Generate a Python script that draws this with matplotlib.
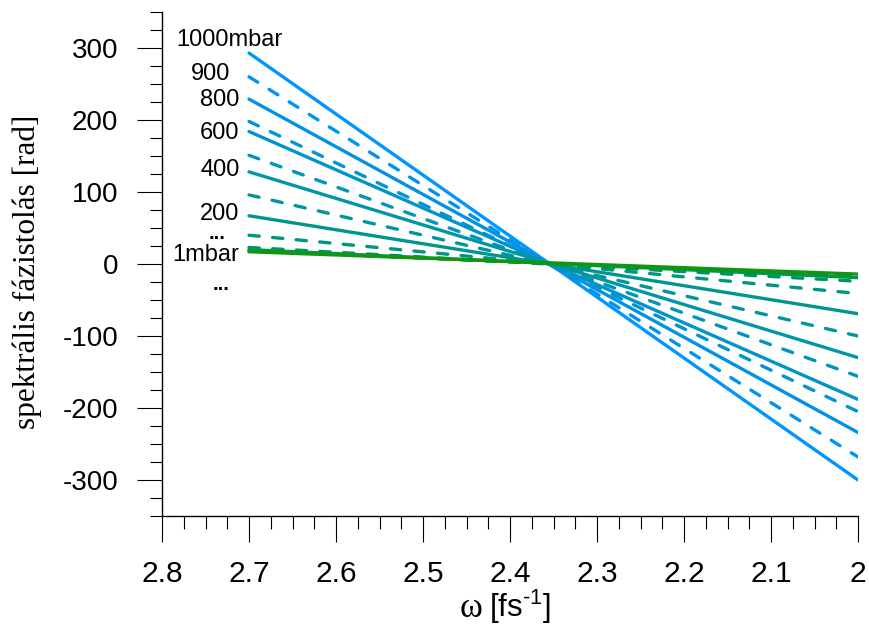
import matplotlib
matplotlib.use('Agg')
import matplotlib.pyplot as plt
from matplotlib.ticker import MultipleLocator, FuncFormatter

plt.rcParams['font.family'] = ['Liberation Sans', 'DejaVu Sans']
plt.rcParams['axes.unicode_minus'] = False
plt.rcParams['mathtext.fontset'] = 'custom'
plt.rcParams['mathtext.rm'] = 'Liberation Sans'

# omega endpoints of every curve [fs^-1]
omega = [2.7, 2.0]

# phase at omega = 2.7 and omega = 2.0, 1000 mbar first, lowest pressures last
phase_left = [293, 260, 229, 198, 184, 151, 128, 96, 67, 40, 23, 20, 18, 17]
phase_right = [-300, -268, -234, -205, -188, -156, -130, -100, -69, -41, -24, -19, -17, -14]
dashed = [False, True, False, True, False, True, False, True, False, True, True, False, True, False]
colors = ['#0096FF', '#0093F0', '#0092E6', '#0094D6', '#0094C8', '#0096B9', '#0096AA',
          '#00969C', '#00968E', '#009680', '#009664', '#00964B', '#009632', '#129612']

# pressure labels next to the curves
labels = ['1000mbar', '900', '800', '600', '400', '200', '1mbar']
label_x = [2.7224, 2.722, 2.711, 2.711, 2.711, 2.711, 2.711]
label_y = [311, 264, 228, 182, 130, 70, 12]
label_ha = ['center', 'right', 'right', 'right', 'right', 'right', 'right']

fig = plt.figure(figsize=(8.7, 6.34), dpi=100)
ax = fig.add_axes([162 / 870, 1 - 516 / 634, 696 / 870, 504 / 634])

for i in range(len(phase_left)):
    if dashed[i]:
        ax.plot(omega, [phase_left[i], phase_right[i]], color=colors[i], lw=2.4,
                dashes=(3.1, 4.0), dash_capstyle='round')
    else:
        ax.plot(omega, [phase_left[i], phase_right[i]], color=colors[i], lw=2.4,
                solid_capstyle='round')

for t, x, y, ha in zip(labels, label_x, label_y, label_ha):
    ax.text(x, y, t, ha=ha, va='center', fontsize=17)
# "..." markers between the labels
ax.text(2.7368, 35, '...', ha='center', va='baseline', fontsize=14.5, fontweight='heavy')
ax.text(2.732, -36, '...', ha='center', va='baseline', fontsize=14.5, fontweight='heavy')

ax.set_xlim(2.8, 2.0)
ax.set_ylim(-350, 350)
ax.spines['top'].set_visible(False)
ax.spines['right'].set_visible(False)
ax.spines['left'].set_linewidth(1.0)
ax.spines['bottom'].set_linewidth(1.0)

ax.xaxis.set_major_locator(MultipleLocator(0.1))
ax.xaxis.set_minor_locator(MultipleLocator(0.025))
ax.yaxis.set_major_locator(MultipleLocator(100))
ax.yaxis.set_minor_locator(MultipleLocator(25))
ax.xaxis.set_major_formatter(FuncFormatter(lambda v, p: '%g' % round(v, 3)))
ax.yaxis.set_major_formatter(FuncFormatter(lambda v, p: '%d' % round(v)))

ax.tick_params(axis='x', which='major', direction='out', length=18.7, width=0.8,
               labelsize=21.5, pad=13)
ax.tick_params(axis='x', which='minor', direction='out', length=9, width=0.8)
ax.tick_params(axis='y', which='major', direction='out', length=18, width=0.8,
               labelsize=20, pad=13.5)
ax.tick_params(axis='y', which='minor', direction='out', length=8.6, width=0.8)

ax.set_ylabel('spektrális fázistolás [rad]', family=['Liberation Serif', 'DejaVu Serif'],
              fontsize=22.5)
ax.yaxis.set_label_coords(-0.1724, 0.485)

# x label: serif omega followed by sans unit
ax.text(0.4612, -0.2004, 'ω', transform=ax.transAxes, ha='right', va='baseline',
        family=['Liberation Serif', 'DejaVu Serif'], fontsize=25)
ax.text(0.4698, -0.2004, r'[fs$^{\text{-}1}$]', transform=ax.transAxes, ha='left',
        va='baseline', fontsize=22.5)

fig.savefig('out.png', dpi=100)
